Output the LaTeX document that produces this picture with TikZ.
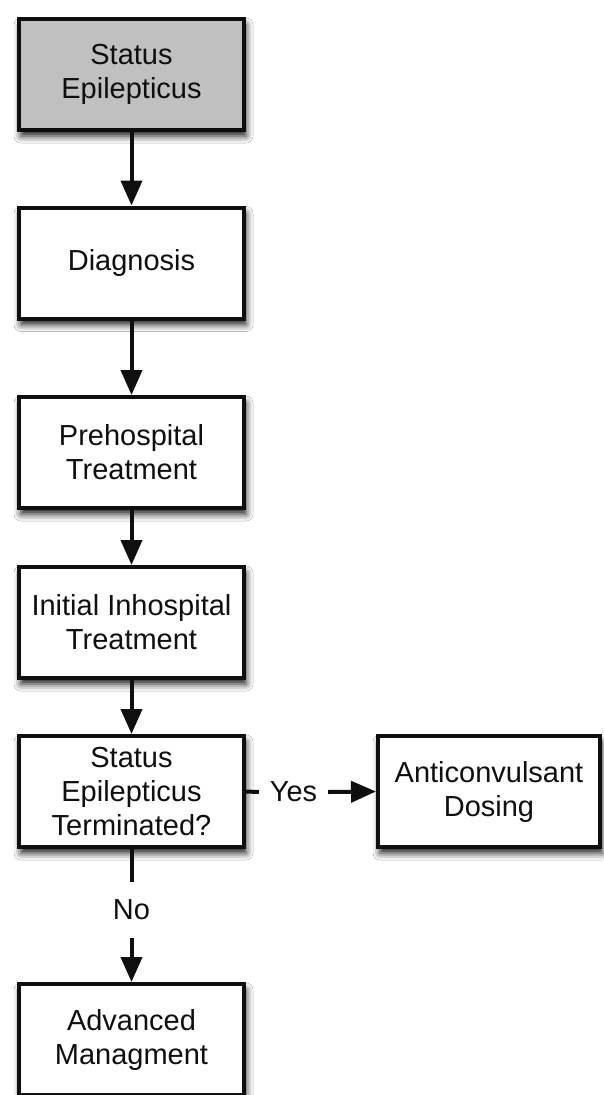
\documentclass[tikz,border=0pt]{standalone}
\usepackage{fontspec}
\setmainfont{Liberation Sans}
\usetikzlibrary{arrows.meta,shadows.blur}
\definecolor{boxgray}{RGB}{192,192,192}
\definecolor{inkc}{RGB}{15,15,15}
\begin{document}
\begin{tikzpicture}[x=1pt,y=1pt,
  flowbox/.style={draw=inkc, line width=4pt, fill=white, align=center,
    minimum width=225pt, minimum height=111pt, inner sep=0pt, text=inkc,
    font=\fontsize{29}{34}\selectfont,
    blur shadow={shadow xshift=2pt, shadow yshift=-6pt, shadow blur radius=7pt, shadow opacity=90}},
  lbl/.style={inner sep=0pt, text=inkc, font=\fontsize{29}{34}\selectfont},
  flowarrow/.style={draw=inkc, line width=4pt, -{Triangle[width=21pt,length=25pt]}},
  flowline/.style={draw=inkc, line width=4pt}
]
\useasboundingbox[fill=white] (0,0) rectangle (603,-1095);
\node[flowbox, fill=boxgray] (se) at (131.5,-74.5) {Status\\Epilepticus};
\node[flowbox] (dx) at (131.5,-263) {Diagnosis};
\node[flowbox] (pre) at (131.5,-452.5) {Prehospital\\Treatment};
\node[flowbox] (inh) at (131.5,-622.5) {Initial Inhospital\\Treatment};
\node[flowbox] (term) at (131.5,-791.5) {Status\\Epilepticus\\Terminated?};
\node[flowbox, minimum width=222pt] (anti) at (489,-791.5) {Anticonvulsant\\Dosing};
\node[flowbox] (adv) at (131.5,-1039.5) {Advanced\\Managment};
\node[lbl, minimum width=69pt] (yes) at (293.5,-792) {Yes};
\node[lbl, minimum height=56pt] (no) at (131.5,-910) {No};
\draw[flowarrow] (se) -- (dx);
\draw[flowarrow] (dx) -- (pre);
\draw[flowarrow] (pre) -- (inh);
\draw[flowarrow] (inh) -- (term);
\draw[flowline] (term.east) -- (yes.west);
\draw[flowarrow] (yes.east) -- (anti.west);
\draw[flowline] (term.south) -- (no.north);
\draw[flowarrow] (no.south) -- (adv.north);
\end{tikzpicture}
\end{document}
